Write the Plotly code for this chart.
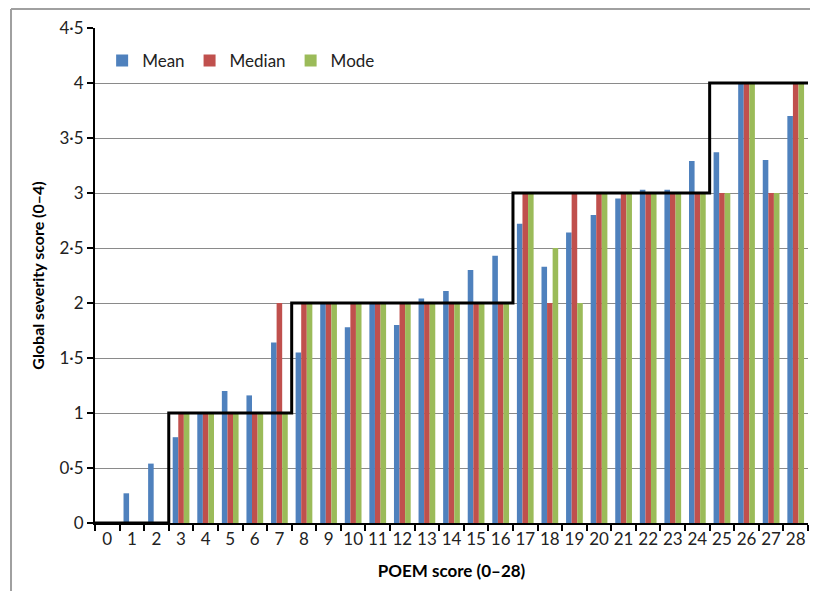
import plotly.graph_objects as go

poem_scores = list(range(29))
mean_vals = [0, 0.27, 0.54, 0.78, 1, 1.2, 1.16, 1.64, 1.55, 2, 1.78, 2, 1.8, 2.04, 2.11,
             2.3, 2.43, 2.72, 2.33, 2.64, 2.8, 2.95, 3.03, 3.03, 3.29, 3.37, 4, 3.3, 3.7]
median_vals = [0, 0, 0, 1, 1, 1, 1, 2, 2, 2, 2, 2, 2, 2, 2,
               2, 2, 3, 2, 3, 3, 3, 3, 3, 3, 3, 4, 3, 4]
mode_vals = [0, 0, 0, 1, 1, 1, 1, 1, 2, 2, 2, 2, 2, 2, 2,
             2, 2, 3, 2.5, 2, 3, 3, 3, 3, 3, 3, 4, 3, 4]

band_edges = [-0.5, 2.5, 7.5, 16.5, 24.5, 28.5]
band_levels = [0, 1, 2, 3, 4, 4]

y_tickvals = [0, 0.5, 1, 1.5, 2, 2.5, 3, 3.5, 4, 4.5]
y_ticktext = ["0", "0·5", "1", "1·5", "2", "2·5", "3", "3·5", "4", "4·5"]

FONT = "Lato, 'Open Sans', sans-serif"

fig = go.Figure()
fig.add_bar(x=poem_scores, y=mean_vals, name="Mean", marker_color="#4F81BD", marker_line_width=0)
fig.add_bar(x=poem_scores, y=median_vals, name="Median", marker_color="#C0504D", marker_line_width=0)
fig.add_bar(x=poem_scores, y=mode_vals, name="Mode", marker_color="#9BBB59", marker_line_width=0)
fig.add_scatter(x=band_edges, y=band_levels, mode="lines", line=dict(color="black", width=3, shape="hv"),
                showlegend=False, cliponaxis=False, hoverinfo="skip")

fig.update_layout(
    width=810, height=583,
    margin=dict(l=87, r=10, t=20, b=68),
    paper_bgcolor="white", plot_bgcolor="white",
    font=dict(family=FONT, size=17, color="#222"),
    barmode="group", bargap=0.32, bargroupgap=0,
    legend=dict(orientation="h", x=0.01, y=0.97, xanchor="left", yanchor="top",
                font=dict(size=17), bgcolor="rgba(0,0,0,0)", itemwidth=30, tracegroupgap=0),
    xaxis=dict(
        range=[-0.5, 28.5], tickmode="array", tickvals=poem_scores,
        ticktext=[str(v) for v in poem_scores], ticks="", showgrid=False,
        showline=True, linecolor="black", linewidth=2, zeroline=False,
        minor=dict(tickvals=[v - 0.5 for v in poem_scores] + [28.5], ticks="outside",
                   ticklen=6, tickcolor="black", tickwidth=2, showgrid=False),
        title=dict(text="<b>POEM score (0–28)</b>", font=dict(size=17, color="black"), standoff=17),
        tickfont=dict(size=17),
        automargin=False,
    ),
    yaxis=dict(
        range=[0, 4.5], tickmode="array", tickvals=y_tickvals, ticktext=y_ticktext,
        ticks="outside", ticklen=6, tickcolor="black", tickwidth=2,
        showgrid=True, gridcolor="#8a8a8a", gridwidth=1,
        showline=True, linecolor="black", linewidth=2, zeroline=False,
        title=dict(text="<b>Global severity score (0–4)</b>", font=dict(size=16, color="black"), standoff=11),
        tickfont=dict(size=17),
        automargin=False,
    ),
    shapes=[
        dict(type="line", xref="paper", yref="paper", x0=-0.1178, x1=-0.1178, y0=-0.2, y1=1.0384,
             line=dict(color="#a0a0a0", width=2)),
        dict(type="line", xref="paper", yref="paper", x0=-0.1178, x1=1.02, y0=1.0384, y1=1.0384,
             line=dict(color="#a0a0a0", width=2)),
    ],
)

fig.write_html("out.html")
